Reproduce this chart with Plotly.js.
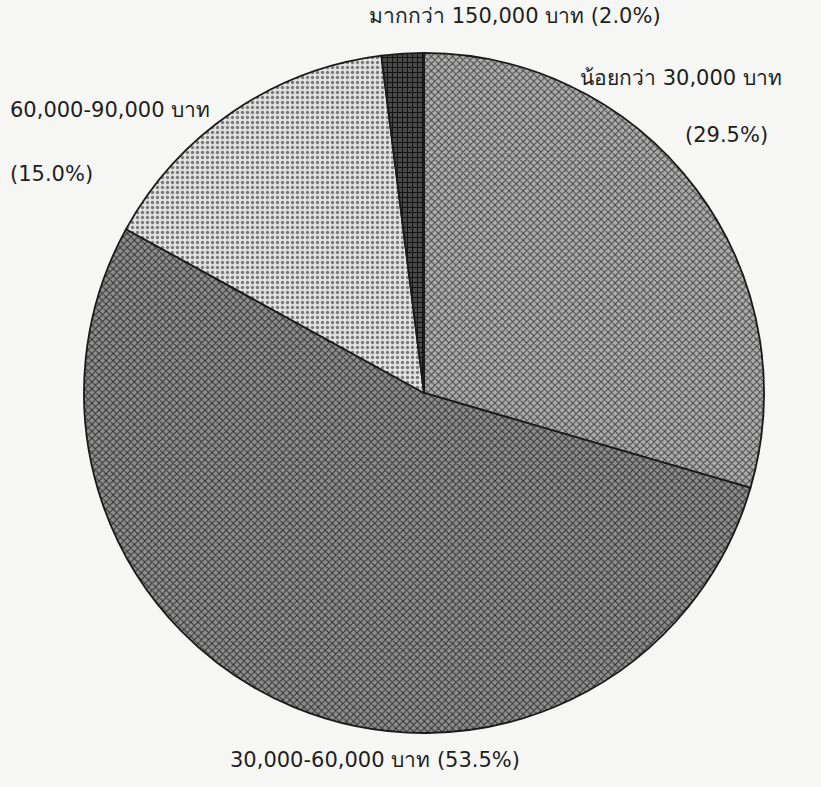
<!DOCTYPE html>
<html>
<head>
<meta charset="utf-8">
<script src="https://cdn.plot.ly/plotly-3.0.1.min.js"></script>
<style>
  html, body { margin: 0; padding: 0; background: #f6f6f4; }
  #chart { width: 821px; height: 787px; }
</style>
</head>
<body>
<div id="chart"></div>
<script>
const categories = ["น้อยกว่า 30,000 บาท", "30,000-60,000 บาท", "60,000-90,000 บาท", "มากกว่า 150,000 บาท"];
const percents = [29.5, 53.5, 15.0, 2.0];
const percentLabels = ["(29.5%)", "(53.5%)", "(15.0%)", "(2.0%)"];

const fillColors = ["#adadad", "#8e8e8e", "#e2e2e2", "#4a4a4a"];
const patternFg = ["#404040", "#2e2e2e", "#7a7a7a", "#111111"];
const patternShapes = ["x", "x", ".", "+"];

const font = "'DejaVu Sans', 'Noto Sans', sans-serif";

const trace = {
  type: "pie",
  labels: categories,
  values: percents,
  sort: false,
  direction: "clockwise",
  rotation: 0,
  textinfo: "none",
  hoverinfo: "label+percent",
  showlegend: false,
  domain: { x: [0.1023, 0.9306], y: [0.0686, 0.9327] },
  marker: {
    colors: fillColors,
    line: { color: "#1a1a1a", width: 1.8 },
    pattern: { shape: patternShapes, fgcolor: patternFg, bgcolor: fillColors, size: 5, solidity: 0.35 }
  }
};

const ann = (text, x, y, xanchor) => ({
  text: text, x: x, y: y, xref: "paper", yref: "paper",
  xanchor: xanchor || "left", yanchor: "middle", showarrow: false,
  font: { family: font, size: 21, color: "#1e1e1e" }
});

const layout = {
  width: 821, height: 787,
  margin: { l: 0, r: 0, t: 0, b: 0 },
  paper_bgcolor: "#f6f6f4",
  plot_bgcolor: "#f6f6f4",
  annotations: [
    ann(categories[3] + " " + percentLabels[3], 367 / 821, 1 - 16 / 787),
    ann(categories[0], 578 / 821, 1 - 78 / 787),
    ann(percentLabels[0], 683 / 821, 1 - 135 / 787),
    ann(categories[2], 8 / 821, 1 - 110 / 787),
    ann(percentLabels[2], 8 / 821, 1 - 174 / 787),
    ann(categories[1] + " " + percentLabels[1], 228 / 821, 1 - 760 / 787)
  ]
};

Plotly.newPlot("chart", [trace], layout, { displayModeBar: false, staticPlot: true });
</script>
</body>
</html>
